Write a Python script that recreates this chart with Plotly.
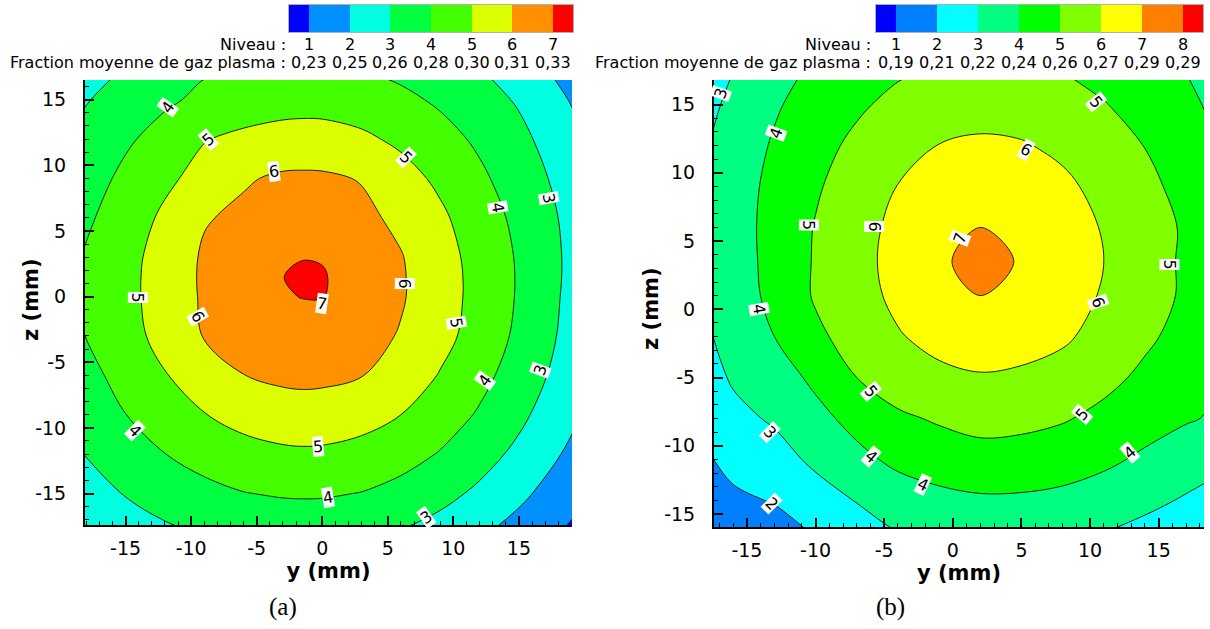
import plotly.graph_objects as go

# ---------------- Panel (a) data ----------------
a_y_mm = [-18.5, -15, -12, -9, -6, -3, -1.5, 0, 3, 6, 9, 12, 15, 19.5]
a_z_mm = [-18, -15, -12, -9, -6, -3, 0, 1.5, 3, 6, 9, 12, 15, 17]
a_level = [
    [1.84, 2.40, 2.81, 3.06, 3.23, 3.29, 3.30, 3.28, 3.17, 2.94, 2.60, 2.13, 1.61, 0.74],
    [2.44, 3.06, 3.44, 3.74, 3.97, 4.09, 4.11, 4.10, 3.97, 3.69, 3.30, 2.81, 2.22, 1.24],
    [2.96, 3.56, 3.99, 4.35, 4.66, 4.83, 4.86, 4.84, 4.68, 4.37, 3.94, 3.39, 2.77, 1.69],
    [3.33, 3.99, 4.48, 4.97, 5.33, 5.53, 5.57, 5.55, 5.36, 5.00, 4.48, 3.90, 3.22, 2.07],
    [3.62, 4.33, 4.95, 5.49, 5.99, 6.20, 6.24, 6.21, 6.03, 5.52, 4.95, 4.28, 3.57, 2.37],
    [3.92, 4.61, 5.35, 6.05, 6.31, 6.60, 6.66, 6.63, 6.35, 5.93, 5.27, 4.65, 3.79, 2.55],
    [4.08, 4.73, 5.42, 6.12, 6.52, 6.94, 7.02, 7.03, 6.57, 6.09, 5.42, 4.69, 3.91, 2.61],
    [4.05, 4.73, 5.42, 6.14, 6.53, 6.99, 7.15, 7.07, 6.56, 6.09, 5.42, 4.69, 3.92, 2.65],
    [3.98, 4.70, 5.38, 6.12, 6.46, 6.90, 6.97, 6.95, 6.50, 6.05, 5.38, 4.65, 3.90, 2.66],
    [3.74, 4.51, 5.17, 5.93, 6.19, 6.43, 6.46, 6.45, 6.22, 5.79, 5.17, 4.47, 3.77, 2.61],
    [3.52, 4.20, 4.81, 5.33, 5.90, 6.15, 6.17, 6.15, 5.95, 5.36, 4.81, 4.17, 3.55, 2.44],
    [3.23, 3.87, 4.33, 4.96, 5.20, 5.33, 5.36, 5.35, 5.17, 4.82, 4.33, 3.84, 3.26, 2.17],
    [2.86, 3.44, 3.86, 4.18, 4.48, 4.65, 4.67, 4.66, 4.51, 4.21, 3.86, 3.41, 2.89, 1.82],
    [2.51, 3.12, 3.60, 3.95, 4.05, 4.17, 4.19, 4.18, 4.07, 3.83, 3.51, 3.09, 2.54, 1.53],
]
a_levels = [1, 2, 3, 4, 5, 6, 7]
a_fractions = ["0,23", "0,25", "0,26", "0,28", "0,30", "0,31", "0,33"]
a_colors = ["#0000ff", "#0090ff", "#00ffe0", "#00ff40", "#44ff00",
            "#dcff00", "#ff9000", "#ff0000"]
a_lbl_text = ["4", "5", "6", "5", "4", "3", "5", "6", "7", "6", "5", "4", "5", "4", "4", "3", "3"]
a_lbl_y = [-11.8, -8.7, -3.7, 6.4, 13.4, 17.3, -14.1, -9.5, 0.0, 6.3, 10.2, -14.3, -0.3, 0.4, 12.4, 16.6, 7.9]
a_lbl_z = [14.4, 12.0, 9.5, 10.6, 6.8, 7.5, -0.1, -1.5, -0.5, 1.0, -2.0, -10.2, -11.4, -15.3, -6.4, -5.6, -16.8]
a_lbl_ang = [-55, -40, -8, 45, 80, 80, 90, 60, 8, 90, 80, 45, -5, -10, -55, -70, -35]

# ---------------- Panel (b) data ----------------
b_y_mm = [-18, -16, -13, -10, -7, -4, -1, 2, 5, 8, 11, 14, 17, 19]
b_z_mm = [-16.5, -14, -11, -8, -5, -2, 1, 3.5, 6, 9, 12, 15, 17.3]
b_level = [
    [1.03, 1.38, 1.58, 2.04, 2.55, 2.95, 3.08, 3.23, 3.24, 3.15, 2.96, 2.67, 2.36, 2.16],
    [1.43, 1.81, 2.06, 2.58, 3.04, 3.50, 3.72, 3.87, 3.86, 3.76, 3.56, 3.25, 2.90, 2.69],
    [1.88, 2.30, 2.62, 3.19, 3.75, 4.21, 4.51, 4.64, 4.59, 4.44, 4.18, 3.85, 3.51, 3.26],
    [2.28, 2.74, 3.12, 3.72, 4.30, 4.85, 5.10, 5.32, 5.26, 5.08, 4.76, 4.36, 4.08, 3.92],
    [2.62, 3.11, 3.55, 4.20, 5.00, 5.48, 5.79, 5.93, 5.85, 5.62, 5.26, 4.81, 4.39, 4.10],
    [2.86, 3.38, 4.00, 4.80, 5.41, 5.93, 6.29, 6.46, 6.36, 6.15, 5.66, 5.17, 4.68, 4.38],
    [3.01, 3.53, 4.24, 5.10, 5.64, 6.21, 6.68, 7.00, 6.80, 6.39, 5.92, 5.37, 4.87, 4.53],
    [3.10, 3.53, 4.32, 5.08, 5.71, 6.29, 6.90, 7.22, 6.95, 6.49, 6.00, 5.43, 4.85, 4.58],
    [3.20, 3.58, 4.32, 5.05, 5.66, 6.23, 6.72, 7.00, 6.85, 6.41, 5.94, 5.39, 4.89, 4.54],
    [3.03, 3.56, 4.25, 4.89, 5.49, 6.02, 6.40, 6.59, 6.48, 6.18, 5.74, 5.23, 4.71, 4.36],
    [2.93, 3.45, 4.10, 4.68, 5.21, 5.67, 6.02, 6.14, 6.07, 5.82, 5.43, 4.98, 4.41, 4.07],
    [2.73, 3.23, 3.89, 4.41, 4.85, 5.26, 5.54, 5.65, 5.59, 5.38, 5.06, 4.53, 4.20, 3.85],
    [2.52, 3.01, 3.69, 4.17, 4.57, 4.90, 5.15, 5.25, 5.20, 5.02, 4.63, 4.30, 4.00, 3.60],
]
b_levels = [1, 2, 3, 4, 5, 6, 7, 8]
b_fractions = ["0,19", "0,21", "0,22", "0,24", "0,26", "0,27", "0,29", "0,29"]
b_colors = ["#0000ff", "#0080ff", "#00ffff", "#00ff80", "#00ff00",
            "#80ff00", "#ffff00", "#ff8000", "#ff0000"]
b_lbl_text = ["3", "4", "5", "6", "5", "6", "7", "5", "4", "6", "5", "5", "3", "4", "4", "4", "2"]
b_lbl_y = [-16.9, -12.9, 10.4, 5.3, -10.5, -5.7, 0.5, 15.8, -14.1, 10.6, -5.95, 9.4, -13.3, -5.95, -2.2, 12.9, -13.2]
b_lbl_z = [15.8, 12.9, 15.2, 11.7, 6.2, 6.1, 5.2, 3.3, 0.0, 0.5, -6.0, -7.7, -9.0, -10.8, -12.8, -10.5, -14.2]
b_lbl_ang = [-70, -70, 50, 30, 90, 90, -70, 90, 80, 70, 50, -50, 45, 40, 25, -40, 45]

ticks_vals = [-15, -10, -5, 0, 5, 10, 15]
ticks_text = ["-15", "-10", "-5", "0", "5", "10", "15"]


def discrete_scale(colors):
    n = len(colors) - 1
    return [[k / n, c] for k, c in enumerate(colors)]


FONT = "DejaVu Sans"
fig = go.Figure()

fig.add_trace(go.Contour(
    x=a_y_mm, y=a_z_mm, z=a_level, xaxis="x", yaxis="y",
    autocontour=False,
    contours=dict(start=a_levels[0], end=a_levels[-1], size=1, coloring="fill", showlines=True),
    line=dict(color="#1e1e1e", width=1, smoothing=1),
    colorscale=discrete_scale(a_colors), showscale=False, hoverinfo="skip"))

fig.add_trace(go.Contour(
    x=b_y_mm, y=b_z_mm, z=b_level, xaxis="x2", yaxis="y2",
    autocontour=False,
    contours=dict(start=b_levels[0], end=b_levels[-1], size=1, coloring="fill", showlines=True),
    line=dict(color="#1e1e1e", width=1, smoothing=1),
    colorscale=discrete_scale(b_colors), showscale=False, hoverinfo="skip"))

# colour legends (level boxes)
a_edges = [a_levels[0] - 0.5] + a_levels + [a_levels[-1] + 0.5]
b_edges = [b_levels[0] - 0.5] + b_levels + [b_levels[-1] + 0.5]
fig.add_trace(go.Heatmap(x=a_edges, y=[0, 1], z=[list(range(len(a_colors)))],
                         xaxis="x3", yaxis="y3", zmin=0, zmax=len(a_colors) - 1,
                         colorscale=discrete_scale(a_colors), showscale=False, hoverinfo="skip"))
fig.add_trace(go.Heatmap(x=b_edges, y=[0, 1], z=[list(range(len(b_colors)))],
                         xaxis="x4", yaxis="y4", zmin=0, zmax=len(b_colors) - 1,
                         colorscale=discrete_scale(b_colors), showscale=False, hoverinfo="skip"))

W, H = 1210, 629


def px_x(p):
    return p / W


def px_y(p):
    return (H - p) / H


axis_common = dict(showline=True, linecolor="black", linewidth=2, ticks="inside",
                   ticklen=9, tickwidth=2, tickcolor="black", showgrid=False, zeroline=False,
                   tickmode="array", tickvals=ticks_vals, ticktext=ticks_text,
                   tickfont=dict(family=FONT, size=19, color="black"),
                   minor=dict(tickmode="linear", tick0=0, dtick=1, ticks="inside",
                              ticklen=4, tickwidth=1, tickcolor="black"))

title_font = dict(family=FONT, size=21, color="black")

fig.update_layout(
    width=W, height=H, margin=dict(l=0, r=0, t=0, b=0),
    paper_bgcolor="white", plot_bgcolor="white",
    font=dict(family=FONT, color="black"),
    xaxis=dict(domain=[px_x(85), px_x(572)], range=[-18.1, 19.05], anchor="y",
               title=dict(text="<b>y (mm)</b>", font=title_font, standoff=4),
               ticklabelstandoff=5, **axis_common),
    yaxis=dict(domain=[px_y(525), px_y(80)], range=[-17.4, 16.5], anchor="x",
               ticklabelstandoff=13, **axis_common),
    xaxis2=dict(domain=[px_x(714), px_x(1204)], range=[-17.4, 18.3], anchor="y2",
                title=dict(text="<b>y (mm)</b>", font=title_font, standoff=4),
                ticklabelstandoff=5, **axis_common),
    yaxis2=dict(domain=[px_y(527), px_y(80)], range=[-15.95, 16.8], anchor="x2",
                ticklabelstandoff=13, **axis_common),
    xaxis3=dict(domain=[px_x(289), px_x(573)], range=[a_edges[0], a_edges[-1]], anchor="y3",
                showticklabels=False, ticks="", showgrid=False, zeroline=False,
                showline=True, mirror=True, linecolor="#b0b0b0", linewidth=1),
    yaxis3=dict(domain=[px_y(32), px_y(5)], range=[0, 1], anchor="x3",
                showticklabels=False, ticks="", showgrid=False, zeroline=False,
                showline=True, mirror=True, linecolor="#b0b0b0", linewidth=1),
    xaxis4=dict(domain=[px_x(876), px_x(1203)], range=[b_edges[0], b_edges[-1]], anchor="y4",
                showticklabels=False, ticks="", showgrid=False, zeroline=False,
                showline=True, mirror=True, linecolor="#b0b0b0", linewidth=1),
    yaxis4=dict(domain=[px_y(32), px_y(5)], range=[0, 1], anchor="x4",
                showticklabels=False, ticks="", showgrid=False, zeroline=False,
                showline=True, mirror=True, linecolor="#b0b0b0", linewidth=1),
)

ann = []
lab_font = dict(family=FONT, size=16, color="black")
for t, xv, yv, ang in zip(a_lbl_text, a_lbl_y, a_lbl_z, a_lbl_ang):
    ann.append(dict(text=t, x=xv, y=yv, xref="x", yref="y", showarrow=False,
                    xanchor="center", yanchor="middle",
                    textangle=ang, bgcolor="white", borderpad=0, font=lab_font))
for t, xv, yv, ang in zip(b_lbl_text, b_lbl_y, b_lbl_z, b_lbl_ang):
    ann.append(dict(text=t, x=xv, y=yv, xref="x2", yref="y2", showarrow=False,
                    xanchor="center", yanchor="middle",
                    textangle=ang, bgcolor="white", borderpad=0, font=lab_font))

leg_font = dict(family=FONT, size=16, color="black")
row1_y, row2_y = px_y(44), px_y(63)
for lv, fr in zip(a_levels, a_fractions):
    ann.append(dict(text=str(lv), x=lv, xref="x3", y=row1_y, yref="paper",
                    showarrow=False, font=leg_font, xanchor="center", yanchor="middle"))
    ann.append(dict(text=fr, x=lv, xref="x3", y=row2_y, yref="paper",
                    showarrow=False, font=leg_font, xanchor="center", yanchor="middle"))
for lv, fr in zip(b_levels, b_fractions):
    ann.append(dict(text=str(lv), x=lv, xref="x4", y=row1_y, yref="paper",
                    showarrow=False, font=leg_font, xanchor="center", yanchor="middle"))
    ann.append(dict(text=fr, x=lv, xref="x4", y=row2_y, yref="paper",
                    showarrow=False, font=leg_font, xanchor="center", yanchor="middle"))

for xr in (px_x(288), px_x(873)):
    ann.append(dict(text="Niveau :", x=xr, y=row1_y, xref="paper", yref="paper",
                    xanchor="right", yanchor="middle", showarrow=False, font=leg_font))
    ann.append(dict(text="Fraction moyenne de gaz plasma :", x=xr, y=row2_y,
                    xref="paper", yref="paper", xanchor="right", yanchor="middle",
                    showarrow=False, font=leg_font))

# vertical axis titles
for xc, yc in ((31, 300), (651, 309)):
    ann.append(dict(text="<b>z (mm)</b>", x=px_x(xc), y=px_y(yc), xref="paper", yref="paper",
                    xanchor="center", yanchor="middle", textangle=-90, showarrow=False,
                    font=title_font))

cap_font = dict(family="Liberation Serif", size=25, color="black")
ann.append(dict(text="(a)", x=px_x(283), y=px_y(607), xref="paper", yref="paper",
                xanchor="center", yanchor="middle", showarrow=False, font=cap_font))
ann.append(dict(text="(b)", x=px_x(890), y=px_y(607), xref="paper", yref="paper",
                xanchor="center", yanchor="middle", showarrow=False, font=cap_font))

fig.update_layout(annotations=ann)
fig.write_html("out.html", config={"displayModeBar": False},
               post_script="document.body.style.margin='0';document.body.style.overflow='hidden';")
